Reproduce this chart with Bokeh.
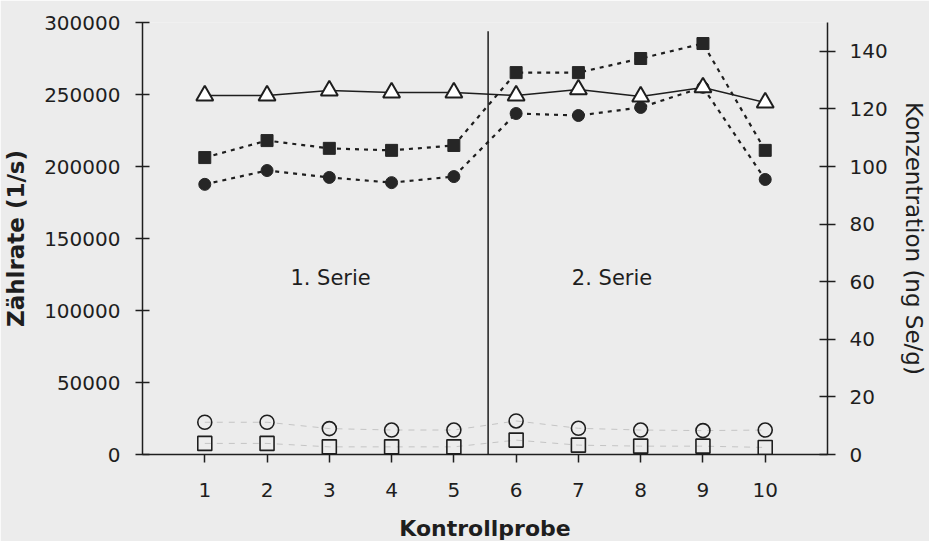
from bokeh.plotting import figure
from bokeh.models import Range1d, LinearAxis, FixedTicker, Label
from bokeh.embed import file_html
from bokeh.resources import INLINE

# ---- data ----
probe = [1, 2, 3, 4, 5, 6, 7, 8, 9, 10]
x_ticks = [1, 2, 3, 4, 5, 6, 7, 8, 9, 10]
left_ticks = [0, 50000, 100000, 150000, 200000, 250000, 300000]
right_ticks = [0, 20, 40, 60, 80, 100, 120, 140]

# Zählrate (left axis)
zaehlrate_dreieck = [249300, 249300, 252800, 251400, 251400, 249300, 253500, 248600, 254900, 244400]
zaehlrate_kreis_offen = [22400, 22400, 18000, 17000, 17000, 23300, 18200, 17000, 16600, 17000]
zaehlrate_quadrat_offen = [7700, 7700, 5300, 5300, 5300, 10000, 6500, 5800, 5800, 4900]

# Konzentration (right axis)
konz_quadrat = [103.1, 109.0, 106.3, 105.6, 107.3, 132.6, 132.6, 137.5, 142.7, 105.6]
konz_kreis = [93.8, 98.6, 96.2, 94.4, 96.5, 118.4, 117.7, 120.5, 127.5, 95.5]

series_split_x = 5.55
series_split_top = 294000
serie_labels = ["1. Serie", "2. Serie"]
serie_label_x = [3.02, 7.54]
serie_label_y = 122900

BG = "#ececec"
INK = "#1e1e1e"
TICK_FONT = "DejaVu Sans"

p = figure(frame_width=685, frame_height=432,
           min_border_left=140, min_border_right=98, min_border_top=22, min_border_bottom=72,
           x_range=Range1d(0, 11), y_range=Range1d(0, 300000),
           output_backend="svg", toolbar_location=None,
           background_fill_color=BG, border_fill_color=BG)
p.outline_line_color = None
p.xgrid.grid_line_color = None
p.ygrid.grid_line_color = None
p.extra_y_ranges = {"konz": Range1d(0, 150)}

# x axis
xa = p.xaxis[0]
xa.ticker = FixedTicker(ticks=x_ticks)
xa.axis_label = "Kontrollprobe"
xa.axis_label_text_font = "DejaVu Sans"
xa.axis_label_text_font_style = "bold"
xa.axis_label_text_font_size = "22px"
xa.axis_label_text_color = INK
xa.axis_label_standoff = 16
xa.major_label_text_font = TICK_FONT
xa.major_label_text_font_size = "20px"
xa.major_label_text_color = INK
xa.major_label_standoff = 20
xa.major_tick_in = 0
xa.major_tick_out = 8
xa.minor_tick_line_color = None
xa.axis_line_width = 1.5
xa.axis_line_color = INK
xa.major_tick_line_width = 1.5
xa.major_tick_line_color = INK

# left axis
ya = p.yaxis[0]
ya.ticker = FixedTicker(ticks=left_ticks)
ya.axis_label = "Zählrate (1/s)"
ya.axis_label_text_font = "DejaVu Sans"
ya.axis_label_text_font_style = "bold"
ya.axis_label_text_font_size = "23px"
ya.axis_label_text_color = INK
ya.axis_label_standoff = 12
ya.major_label_text_font = TICK_FONT
ya.major_label_text_font_size = "20px"
ya.major_label_text_color = INK
ya.major_label_standoff = 15
ya.major_tick_in = 7
ya.major_tick_out = 7
ya.minor_tick_line_color = None
ya.axis_line_width = 1.5
ya.axis_line_color = INK
ya.major_tick_line_width = 1.5
ya.major_tick_line_color = INK
ya.formatter.use_scientific = False

# right axis
ra = LinearAxis(y_range_name="konz", ticker=FixedTicker(ticks=right_ticks))
ra.axis_label = "Konzentration (ng Se/g)"
ra.axis_label_text_font = "DejaVu Sans"
ra.axis_label_text_font_style = "normal"
ra.axis_label_text_font_size = "23px"
ra.axis_label_text_color = INK
ra.axis_label_standoff = 10
ra.major_label_text_font = TICK_FONT
ra.major_label_text_font_size = "20px"
ra.major_label_text_color = INK
ra.major_label_standoff = 14
ra.major_tick_in = 8
ra.major_tick_out = 8
ra.minor_tick_line_color = None
ra.axis_line_width = 1.5
ra.axis_line_color = INK
ra.major_tick_line_width = 1.5
ra.major_tick_line_color = INK
p.add_layout(ra, "right")

# series separator
p.segment(x0=[series_split_x], y0=[0], x1=[series_split_x], y1=[series_split_top],
          line_color=INK, line_width=1.5)

# faint dashed lines for open markers
p.line(probe, zaehlrate_kreis_offen, line_color="#c4c4c4", line_width=1, line_dash="6 6")
p.line(probe, zaehlrate_quadrat_offen, line_color="#c4c4c4", line_width=1, line_dash="6 6")

# dotted lines for concentration
p.line(probe, konz_quadrat, y_range_name="konz", line_color=INK, line_width=2.2, line_dash="4 5")
p.line(probe, konz_kreis, y_range_name="konz", line_color=INK, line_width=2.2, line_dash="4 5")
p.scatter(probe, konz_quadrat, y_range_name="konz", marker="square", size=12,
          fill_color="#262626", line_color="#262626", line_width=1)
p.scatter(probe, konz_kreis, y_range_name="konz", marker="circle", size=12,
          fill_color="#262626", line_color="#262626", line_width=1)

# open markers
p.scatter(probe, zaehlrate_kreis_offen, marker="circle", size=14,
          fill_color=None, line_color=INK, line_width=1.6)
p.scatter(probe, zaehlrate_quadrat_offen, marker="square", size=14,
          fill_color=None, line_color=INK, line_width=1.6)

# triangles with solid line
p.line(probe, zaehlrate_dreieck, line_color=INK, line_width=1.6)
p.scatter(probe, zaehlrate_dreieck, marker="triangle", size=17,
          fill_color="white", line_color=INK, line_width=2)

for txt, lx in zip(serie_labels, serie_label_x):
    p.add_layout(Label(x=lx, y=serie_label_y, text=txt, text_align="center",
                       text_baseline="middle", text_font="DejaVu Sans",
                       text_font_size="21px", text_color=INK))

open("out.html", "w").write(file_html(p, INLINE))
